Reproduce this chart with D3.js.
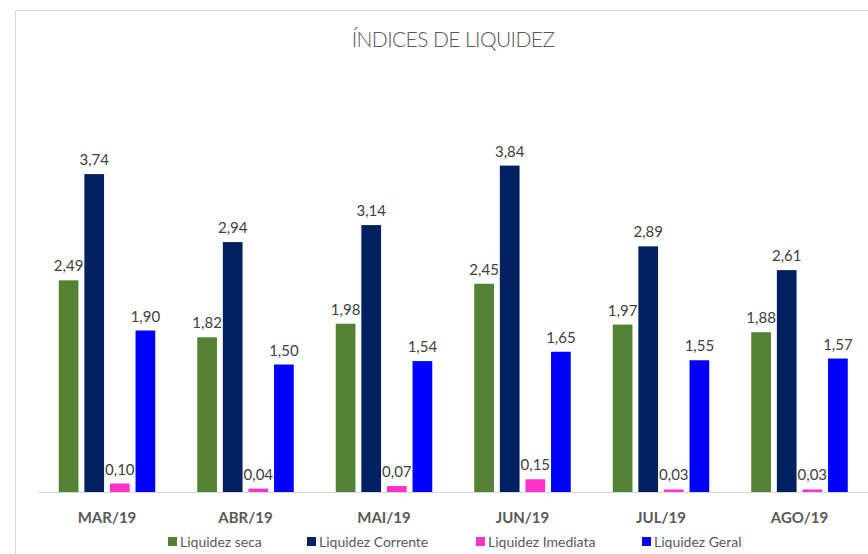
<!DOCTYPE html>
<html>
<head>
<meta charset="utf-8">
<script src="https://cdn.jsdelivr.net/npm/d3@7/dist/d3.min.js"></script>
<style>
  body { margin: 0; background: #fff; }
  svg { display: block; }
</style>
</head>
<body>
<svg id="chart"></svg>
<script>
var width = 868, height = 554;

// data
var months = ["MAR/19", "ABR/19", "MAI/19", "JUN/19", "JUL/19", "AGO/19"];
var seriesNames = ["Liquidez seca", "Liquidez Corrente", "Liquidez Imediata", "Liquidez Geral"];
var seca = [2.49, 1.82, 1.98, 2.45, 1.97, 1.88];
var corrente = [3.74, 2.94, 3.14, 3.84, 2.89, 2.61];
var imediata = [0.10, 0.04, 0.07, 0.15, 0.03, 0.03];
var geral = [1.90, 1.50, 1.54, 1.65, 1.55, 1.57];
var colors = ["#548235", "#002060", "#ff33cc", "#0000ff"];

var allSeries = [seca, corrente, imediata, geral];

var svg = d3.select("#chart")
    .attr("width", width)
    .attr("height", height);

// chart frame
svg.append("rect")
    .attr("x", 15.5).attr("y", 10.5)
    .attr("width", 900).attr("height", 600)
    .attr("fill", "#fff")
    .attr("stroke", "#d9d9d9");

// title
svg.append("text")
    .attr("x", 453).attr("y", 47)
    .attr("text-anchor", "middle")
    .style("font-family", "Lato, sans-serif")
    .style("font-size", "21px")
    .style("font-weight", "300")
    .style("letter-spacing", "-0.6px")
    .style("fill", "#595959")
    .text("ÍNDICES DE LIQUIDEZ");

var baseY = 492;

var x0 = d3.scaleBand()
    .domain(months)
    .range([37.75, 868.75]);

var x1 = d3.scaleBand()
    .domain(seriesNames)
    .range([21, x0.bandwidth() - 21])
    .paddingInner(0.23);

var y = d3.scaleLinear()
    .domain([0, 1])
    .range([baseY, baseY - 85]);

var groups = svg.selectAll("g.month")
    .data(months)
    .enter()
    .append("g")
    .attr("class", "month")
    .attr("transform", function(d) { return "translate(" + x0(d) + ",0)"; });

groups.selectAll("rect")
    .data(function(d, i) {
        return seriesNames.map(function(s, j) {
            return { name: s, value: allSeries[j][i], color: colors[j] };
        });
    })
    .enter()
    .append("rect")
    .attr("x", function(d) { return x1(d.name); })
    .attr("y", function(d) { return y(d.value); })
    .attr("width", x1.bandwidth())
    .attr("height", function(d) { return baseY - y(d.value); })
    .attr("fill", function(d) { return d.color; });

groups.selectAll("text.val")
    .data(function(d, i) {
        return seriesNames.map(function(s, j) {
            return { name: s, value: allSeries[j][i] };
        });
    })
    .enter()
    .append("text")
    .attr("class", "val")
    .attr("x", function(d) { return x1(d.name) + x1.bandwidth() / 2; })
    .attr("y", function(d) { return y(d.value) - 9; })
    .attr("text-anchor", "middle")
    .style("font-family", "Lato, sans-serif")
    .style("font-size", "15px")
    .style("fill", "#404040")
    .text(function(d) { return d.value.toFixed(2).replace(".", ","); });

// axis line
svg.append("line")
    .attr("x1", x0.range()[0]).attr("x2", x0.range()[1])
    .attr("y1", baseY + 0.5).attr("y2", baseY + 0.5)
    .attr("stroke", "#d9d9d9");

// category labels
svg.selectAll("text.cat")
    .data(months)
    .enter()
    .append("text")
    .attr("class", "cat")
    .attr("x", function(d) { return x0(d) + x0.bandwidth() / 2; })
    .attr("y", 523)
    .attr("text-anchor", "middle")
    .style("font-family", "Lato, sans-serif")
    .style("font-size", "15px")
    .style("font-weight", "bold")
    .style("fill", "#595959")
    .text(function(d) { return d; });

// legend
var legendX = [168, 307, 476, 642];
var legend = svg.selectAll("g.legend")
    .data(seriesNames)
    .enter()
    .append("g")
    .attr("class", "legend")
    .attr("transform", function(d, i) { return "translate(" + legendX[i] + ",542)"; });

legend.append("rect")
    .attr("x", 0).attr("y", -5)
    .attr("width", 9).attr("height", 9)
    .attr("fill", function(d, i) { return colors[i]; });

legend.append("text")
    .attr("x", 12).attr("y", 5)
    .style("font-family", "Lato, sans-serif")
    .style("font-size", "14px")
    .style("fill", "#595959")
    .text(function(d) { return d; });
</script>
</body>
</html>
